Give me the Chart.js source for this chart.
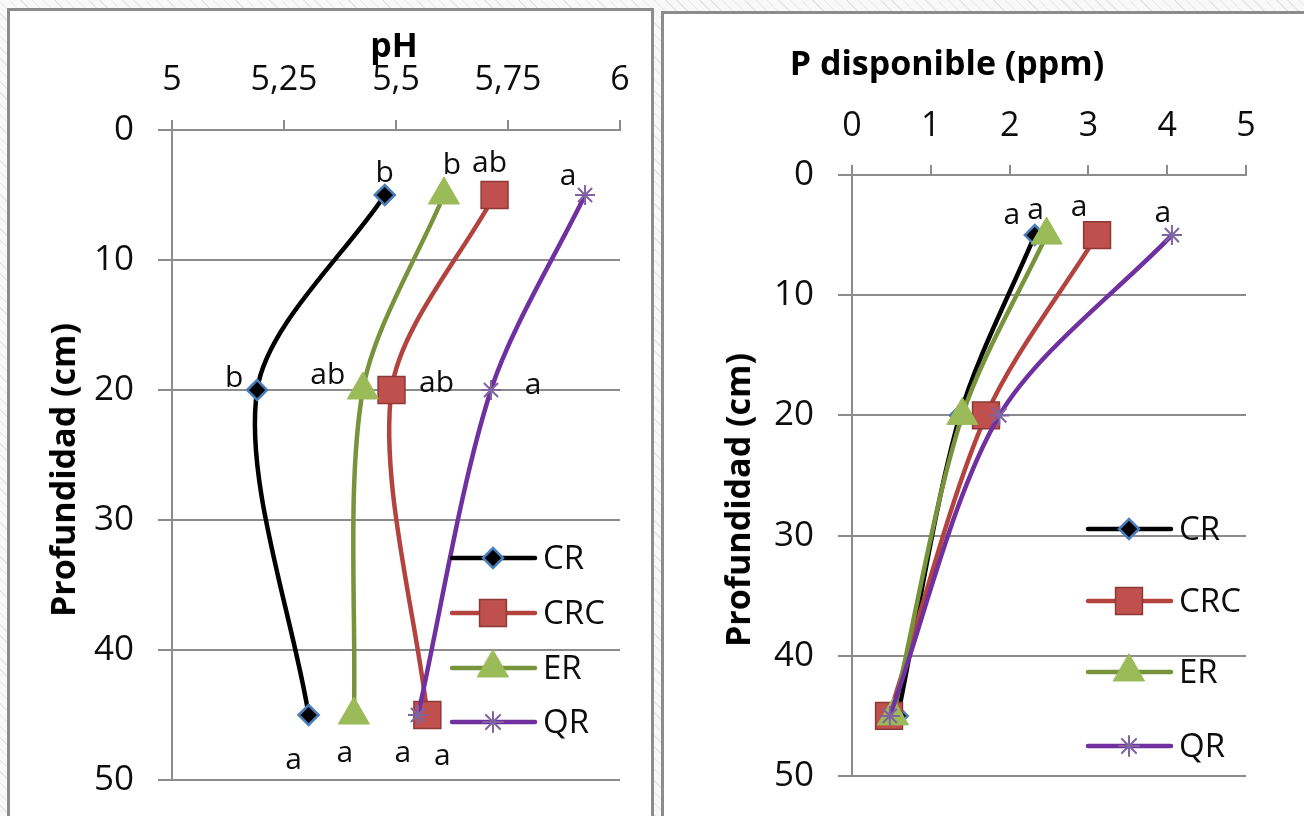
<!DOCTYPE html>
<html lang="es">
<head>
<meta charset="utf-8">
<title>pH y P disponible según profundidad</title>
<script src="https://cdn.jsdelivr.net/npm/chart.js@4.4.1/dist/chart.umd.min.js"></script>
<style>
  html, body { margin: 0; padding: 0; }
  body {
    width: 1304px; height: 816px; overflow: hidden; position: relative;
    background: repeating-linear-gradient(45deg, #f8f8f8 0 7px, #e6e6e6 7px 8px);
    font-family: "Open Sans", sans-serif;
  }
  .panel { position: absolute; background: #fff; border: 3px solid #8c8c8c; box-sizing: border-box; }
  #panelPh { left: 7px; top: 8px; width: 647px; height: 840px; }
  #panelP { left: 661px; top: 11px; width: 660px; height: 840px; }
  canvas { position: absolute; top: 0; }
  #graficoPh { left: 0; }
  #graficoP { left: 664px; }
  .titulo {
    position: absolute; font-weight: bold; font-size: 34px; color: #000;
    white-space: nowrap; transform: translate(-50%, -50%); line-height: 1;
  }
  .vertical { transform: translate(-50%, -50%) rotate(-90deg); }
</style>
</head>
<body>
<div class="panel" id="panelPh"></div>
<div class="panel" id="panelP"></div>
<canvas id="graficoPh" width="652" height="816" style="width:652px;height:816px"></canvas>
<canvas id="graficoP" width="640" height="816" style="width:640px;height:816px"></canvas>
<div class="titulo" style="left:394px; top:44px">pH</div>
<div class="titulo vertical" style="left:62px; top:470px">Profundidad (cm)</div>
<div class="titulo" style="left:947px; top:62px">P disponible (ppm)</div>
<div class="titulo vertical" style="left:737px; top:500px">Profundidad (cm)</div>
<script>
// ================= DATOS =================
const profundidades = [5, 20, 45];
const series = ['CR', 'CRC', 'ER', 'QR'];

// pH por tratamiento
const phCR  = [5.475, 5.19, 5.305];
const phCRC = [5.72, 5.49, 5.57];
const phER  = [5.607, 5.426, 5.406];
const phQR  = [5.922, 5.712, 5.549];

// P disponible (ppm) por tratamiento
const pCR  = [2.32, 1.37, 0.58];
const pCRC = [3.11, 1.70, 0.47];
const pER  = [2.47, 1.40, 0.52];
const pQR  = [4.06, 1.87, 0.48];

// Letras de significancia
const letrasPhCR  = ['b', 'b', 'a'];
const letrasPhCRC = ['ab', 'ab', 'a'];
const letrasPhER  = ['b', 'ab', 'a'];
const letrasPhQR  = ['a', 'a', 'a'];
const letrasPCR  = ['a', '', ''];
const letrasPCRC = ['a', '', ''];
const letrasPER  = ['a', '', ''];
const letrasPQR  = ['a', '', ''];

// Ejes
const valoresEjePh = [5, 5.25, 5.5, 5.75, 6];
const etiquetasEjePh = ['5', '5,25', '5,5', '5,75', '6'];
const valoresEjeP = [0, 1, 2, 3, 4, 5];
const etiquetasEjeP = ['0', '1', '2', '3', '4', '5'];
const valoresProf = [0, 10, 20, 30, 40, 50];
const etiquetasProf = ['0', '10', '20', '30', '40', '50'];

// ================= ESTILOS =================
const estilos = {
  CR:  { linea: '#000000', marcador: 'rectRot',  radio: 10, relleno: '#000000', borde: '#4a7ebb', grosor: 2.5, orden: 4 },
  CRC: { linea: '#b3433f', marcador: 'rect',     radio: 19, relleno: '#c0504d', borde: '#8c3836', grosor: 1.5, orden: 3 },
  ER:  { linea: '#77933c', marcador: 'triangle', radio: 18, relleno: '#9bbb59', borde: '#9bbb59', grosor: 1,   orden: 2 },
  QR:  { linea: '#7030a0', marcador: 'star',     radio: 10, relleno: '#8064a2', borde: '#8064a2', grosor: 2,   orden: 1 }
};

const colorTexto = '#0d0d0d';
const colorGrilla = '#8c8c8c';

function crearSerie(nombre, valores) {
  const e = estilos[nombre];
  return {
    label: nombre,
    data: profundidades.map((p, i) => ({ x: valores[i], y: p })),
    showLine: true,
    borderColor: e.linea,
    borderWidth: 4.5,
    tension: 0.3,
    pointStyle: e.marcador,
    pointRadius: e.radio,
    pointHoverRadius: e.radio,
    pointBackgroundColor: e.relleno,
    pointBorderColor: e.borde,
    pointBorderWidth: e.grosor,
    clip: false,
    order: e.orden
  };
}

// Letras junto a cada punto
function pluginLetras(letras, desplaz) {
  return {
    id: 'letras',
    afterDatasetsDraw(chart) {
      const ctx = chart.ctx;
      ctx.save();
      ctx.font = '30px "Open Sans"';
      ctx.fillStyle = colorTexto;
      ctx.textAlign = 'center';
      ctx.textBaseline = 'middle';
      letras.forEach((lista, d) => {
        const meta = chart.getDatasetMeta(d);
        lista.forEach((txt, i) => {
          if (!txt) return;
          const pt = meta.data[i];
          ctx.fillText(txt, pt.x + desplaz[d][i][0], pt.y + desplaz[d][i][1]);
        });
      });
      ctx.restore();
    }
  };
}

// Leyenda estilo Excel (linea + marcador)
function dibujarMarcador(ctx, e, x, y) {
  ctx.fillStyle = e.relleno;
  ctx.strokeStyle = e.borde;
  ctx.lineWidth = e.grosor;
  Chart.helpers.drawPoint(ctx, { pointStyle: e.marcador, radius: e.radio, rotation: 0, borderWidth: e.grosor }, x, y);
}

function pluginLeyenda(x0, filas) {
  return {
    id: 'leyendaExcel',
    afterDraw(chart) {
      const ctx = chart.ctx;
      ctx.save();
      series.forEach((nombre, i) => {
        const e = estilos[nombre];
        const y = filas[i];
        ctx.beginPath();
        ctx.lineCap = 'round';
        ctx.lineWidth = 4.5;
        ctx.strokeStyle = e.linea;
        ctx.moveTo(x0, y);
        ctx.lineTo(x0 + 83, y);
        ctx.stroke();
        dibujarMarcador(ctx, e, x0 + 41, y);
        ctx.fillStyle = colorTexto;
        ctx.font = '33px "Open Sans"';
        ctx.textAlign = 'left';
        ctx.textBaseline = 'middle';
        ctx.fillText(nombre, x0 + 91, y + 2);
      });
      ctx.restore();
    }
  };
}

function opcionesGrafico(cfg) {
  return {
    responsive: false,
    animation: false,
    events: [],
    layout: { padding: cfg.padding },
    plugins: { legend: { display: false }, tooltip: { enabled: false } },
    scales: {
      x: {
        type: 'linear',
        position: 'top',
        min: cfg.xValores[0],
        max: cfg.xValores[cfg.xValores.length - 1],
        afterBuildTicks: s => { s.ticks = cfg.xValores.map(v => ({ value: v })); },
        afterFit: s => { s.height = cfg.altoEjeX; s.paddingLeft = 0; s.paddingRight = 0; },
        ticks: {
          callback: (v, i) => cfg.xEtiquetas[i],
          font: { family: 'Open Sans', size: 34 },
          color: colorTexto,
          padding: cfg.padX,
          maxRotation: 0,
          autoSkip: false
        },
        grid: { drawOnChartArea: false, drawTicks: true, tickLength: 10, color: colorGrilla, lineWidth: 2 },
        border: { display: true, color: colorGrilla, width: 2 }
      },
      y: {
        type: 'linear',
        reverse: true,
        min: 0,
        max: 50,
        afterBuildTicks: s => { s.ticks = valoresProf.map(v => ({ value: v })); },
        afterFit: s => { s.width = cfg.anchoEjeY; s.paddingTop = 0; s.paddingBottom = 0; },
        ticks: {
          callback: (v, i) => etiquetasProf[i],
          font: { family: 'Open Sans', size: 35 },
          color: colorTexto,
          padding: 24,
          autoSkip: false
        },
        grid: { drawTicks: true, tickLength: 14, color: colorGrilla, lineWidth: 2 },
        border: { display: true, color: colorGrilla, width: 2 }
      }
    }
  };
}

// ================= GRAFICO pH =================
new Chart(document.getElementById('graficoPh'), {
  type: 'scatter',
  data: {
    datasets: [
      crearSerie('CR', phCR),
      crearSerie('CRC', phCRC),
      crearSerie('ER', phER),
      crearSerie('QR', phQR)
    ]
  },
  options: opcionesGrafico({
    padding: { left: 0, right: 32, top: 0, bottom: 36 },
    xValores: valoresEjePh, xEtiquetas: etiquetasEjePh,
    altoEjeX: 130, anchoEjeY: 172, padX: 19
  }),
  plugins: [
    pluginLetras(
      [letrasPhCR, letrasPhCRC, letrasPhER, letrasPhQR],
      [
        [[0, -22], [-23, -12], [-15, 45]],
        [[-5, -32], [45, -7], [15, 41]],
        [[8, -30], [-35, -15], [-9, 38]],
        [[-17, -19], [42, -5], [-15, 38]]
      ]
    ),
    pluginLeyenda(452, [558, 613, 668, 722])
  ]
});

// ================= GRAFICO P DISPONIBLE =================
new Chart(document.getElementById('graficoP'), {
  type: 'scatter',
  data: {
    datasets: [
      crearSerie('CR', pCR),
      crearSerie('CRC', pCRC),
      crearSerie('ER', pER),
      crearSerie('QR', pQR)
    ]
  },
  options: opcionesGrafico({
    padding: { left: 0, right: 58, top: 0, bottom: 40 },
    xValores: valoresEjeP, xEtiquetas: etiquetasEjeP,
    altoEjeX: 175, anchoEjeY: 188, padX: 18
  }),
  plugins: [
    pluginLetras(
      [letrasPCR, letrasPCRC, letrasPER, letrasPQR],
      [
        [[-23, -20], [0, 0], [0, 0]],
        [[-18, -28], [0, 0], [0, 0]],
        [[-11, -25], [0, 0], [0, 0]],
        [[-9, -22], [0, 0], [0, 0]]
      ]
    ),
    pluginLeyenda(424, [529, 601, 672, 746])
  ]
});
</script>
</body>
</html>
